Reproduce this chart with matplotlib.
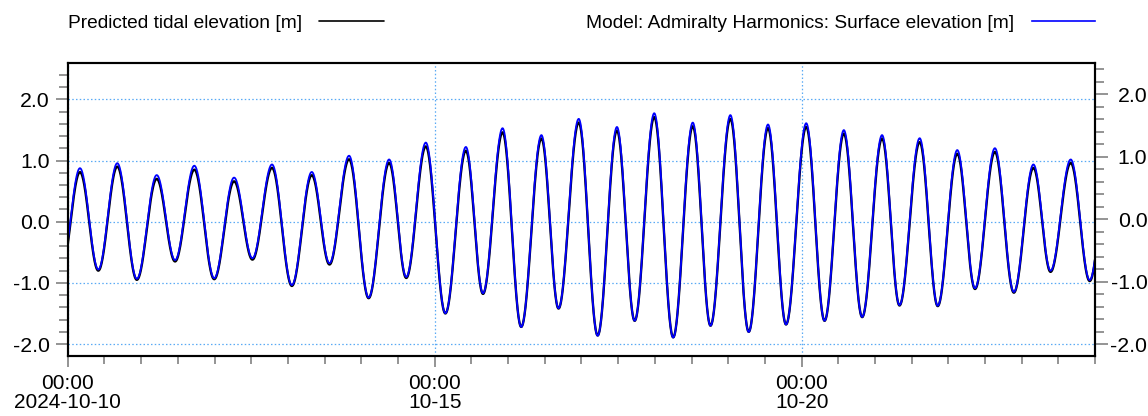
import numpy as np
import matplotlib
matplotlib.use("Agg")
import matplotlib.pyplot as plt
import matplotlib.dates as mdates
from matplotlib.ticker import FixedLocator, MultipleLocator, FormatStrFormatter
from datetime import datetime, timedelta

plt.rcParams['font.family'] = ['Liberation Sans', 'DejaVu Sans']
plt.rcParams['axes.unicode_minus'] = False

# High / low water: hours after 2024-10-10 00:00 and heights [m]
start = datetime(2024, 10, 10)
end = datetime(2024, 10, 24)

pred_hours = [-2.1, 4.0, 10.0, 16.2, 22.6, 29.1, 35.1, 41.4, 47.9, 54.4,
              60.4, 66.8, 73.3, 79.8, 85.6, 92.0, 98.4, 105.1, 110.7, 117.1,
              123.5, 130.2, 135.8, 142.2, 148.3, 154.9, 160.5, 167.1, 173.3, 179.6,
              185.4, 191.8, 198.0, 204.4, 210.2, 216.7, 222.7, 229.0, 234.9, 241.5,
              247.5, 253.8, 259.8, 266.3, 272.0, 278.6, 284.5, 290.9, 296.7, 303.2,
              309.4, 315.8, 321.4, 328.0, 334.2, 340.4]
pred_heights = [-0.80, 0.81, -0.80, 0.90, -0.95, 0.70, -0.65, 0.85, -0.94, 0.66,
                -0.62, 0.88, -1.05, 0.76, -0.70, 1.02, -1.25, 0.96, -0.92, 1.23,
                -1.50, 1.16, -1.18, 1.46, -1.72, 1.36, -1.42, 1.62, -1.86, 1.49,
                -1.62, 1.71, -1.89, 1.56, -1.70, 1.68, -1.80, 1.53, -1.68, 1.55,
                -1.62, 1.44, -1.56, 1.36, -1.37, 1.30, -1.38, 1.11, -1.10, 1.14,
                -1.16, 0.88, -0.82, 0.96, -0.97, 0.90]

model_hours = list(pred_hours)
model_heights = [-0.80, 0.82, -0.80, 0.90, -0.95, 0.71, -0.65, 0.86, -0.94, 0.67,
                 -0.62, 0.88, -1.05, 0.76, -0.70, 1.02, -1.25, 0.96, -0.92, 1.23,
                 -1.50, 1.16, -1.18, 1.46, -1.72, 1.35, -1.42, 1.61, -1.86, 1.48,
                 -1.62, 1.70, -1.89, 1.55, -1.70, 1.67, -1.80, 1.52, -1.68, 1.54,
                 -1.62, 1.43, -1.56, 1.35, -1.37, 1.30, -1.38, 1.11, -1.10, 1.14,
                 -1.16, 0.88, -0.82, 0.96, -0.97, 0.90]

day_ticks = ["2024-10-10", "2024-10-15", "2024-10-20"]
day_labels = ["00:00\n2024-10-10", "00:00\n10-15", "00:00\n10-20"]
y_ticks = [-2.0, -1.0, 0.0, 1.0, 2.0]

legend_pred = "Predicted tidal elevation [m]"
legend_model = "Model: Admiralty Harmonics: Surface elevation [m]"


def tide_curve(hours, heights, step_h=0.1):
    """Cosine-shaped tide curve between successive high and low waters."""
    hours = np.asarray(hours, float)
    heights = np.asarray(heights, float)
    t = np.arange(hours[0], hours[-1], step_h)
    i = np.clip(np.searchsorted(hours, t, side="right") - 1, 0, len(hours) - 2)
    f = (t - hours[i]) / (hours[i + 1] - hours[i])
    v = heights[i] + (heights[i + 1] - heights[i]) * (1 - np.cos(np.pi * f)) / 2
    times = [start + timedelta(hours=float(h)) for h in t]
    return mdates.date2num(times), v


tp, vp = tide_curve(pred_hours, pred_heights)
tm, vm = tide_curve(model_hours, model_heights)

fig = plt.figure(figsize=(11.48, 4.16), dpi=100)
ax = fig.add_axes([0.059, 0.145, 0.895, 0.703])
ax2 = ax.twinx()

line_pred, = ax.plot(tp, vp, color="black", lw=1.7, solid_capstyle="round")
line_model, = ax2.plot(tm, vm, color="#0000ff", lw=1.3)

xmin = mdates.date2num(start)
xmax = mdates.date2num(end)
ax.set_xlim(xmin, xmax)
ax.set_ylim(-2.19, 2.59)
ax2.set_ylim(-2.18, 2.50)

# x axis: labels every five days, ticks every twelve hours
major_x = [mdates.date2num(datetime.strptime(d, "%Y-%m-%d")) for d in day_ticks]
ax.xaxis.set_major_locator(FixedLocator(major_x))
ax.set_xticklabels(day_labels, linespacing=1.0)
ax.xaxis.set_minor_locator(mdates.HourLocator(byhour=[0, 12]))

# y axes
for a in (ax, ax2):
    a.yaxis.set_major_locator(FixedLocator(y_ticks))
    a.yaxis.set_minor_locator(MultipleLocator(0.2))
    a.yaxis.set_major_formatter(FormatStrFormatter("%.1f"))
    for s in a.spines.values():
        s.set_linewidth(1.5)
        s.set_color("black")

tick_col = "#777777"
ax.tick_params(axis="x", which="major", length=8, width=1.1, color=tick_col,
               labelsize=15.0, pad=5)
ax.tick_params(axis="x", which="minor", length=6, width=1.1, color=tick_col)
ax.tick_params(axis="y", which="major", length=9, width=1.1, color=tick_col,
               labelsize=15.3, pad=4)
ax.tick_params(axis="y", which="minor", length=6.5, width=1.1, color=tick_col)
ax2.tick_params(axis="y", which="major", length=9, width=1.1, color=tick_col,
                labelsize=15.3, pad=28.5)
ax2.tick_params(axis="y", which="minor", length=6.5, width=1.1, color=tick_col)

# dotted grid
ax.set_axisbelow(True)
ax.grid(True, which="major", axis="both", color="#5aaaf5", lw=0.9,
        linestyle=(0, (1.2, 1.8)))

# legends above the plot: text first, then the line sample
leg1 = ax.legend(handles=[line_pred], labels=[legend_pred], loc="center left",
                 bbox_to_anchor=(0.0, 1.138), markerfirst=False, frameon=False,
                 borderpad=0, borderaxespad=0, handlelength=3.4,
                 handletextpad=0.9, fontsize=13.8)
leg1.get_lines()[0].set_linewidth(1.2)
leg2 = ax2.legend(handles=[line_model], labels=[legend_model], loc="center right",
                  bbox_to_anchor=(1.0, 1.138), markerfirst=False, frameon=False,
                  borderpad=0, borderaxespad=0, handlelength=3.3,
                  handletextpad=0.95, fontsize=13.8)
leg2.get_lines()[0].set_linewidth(1.2)

# right-hand labels are right-aligned near the figure edge
fig.canvas.draw()
for lbl in ax2.get_yticklabels():
    lbl.set_horizontalalignment("right")

fig.savefig("out.png", dpi=100)
